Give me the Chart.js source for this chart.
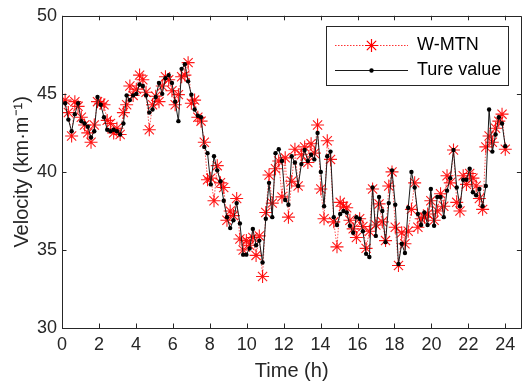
<!DOCTYPE html>
<html>
<head>
<meta charset="utf-8">
<script src="https://cdn.jsdelivr.net/npm/chart.js@4/dist/chart.umd.min.js"></script>
<style>
  html, body { margin: 0; padding: 0; background: #fff; }
  #wrap { width: 529px; height: 388px; }
</style>
</head>
<body>
<div id="wrap"><canvas id="c" width="529" height="388"></canvas></div>
<script>
// sampling grid (hours)
var tStart = 0.17;
var tStep = 0.1752;

var trueValue = [
  44.4, 43.35, 42.6, 43.7, 44.4, 43.25, 43.1, 42.9, 42.2, 42.6,
  44.8, 44.3, 43.5, 42.7, 42.6, 42.7, 42.6, 42.4, 43.1, 44.9,
  44.6, 44.9, 45.0, 45.6, 45.5, 44.9, 43.8, 44.0, 44.8, 45.7,
  45.0, 46.0, 46.2, 45.7, 44.5, 43.25, 46.6, 46.9, 45.8, 44.95,
  44.0, 43.6, 43.5, 41.6, 41.2, 39.2, 41.0, 40.1, 39.4, 38.15,
  37.1, 36.4, 36.9, 38.0, 36.7, 34.7, 34.7, 35.1, 36.35, 35.3,
  35.6, 34.2, 37.0, 39.3, 37.1, 41.2, 41.45, 40.7, 38.2, 37.9,
  41.0, 40.6, 39.1, 40.5, 41.4, 40.7, 41.1, 40.8, 42.5, 40.0,
  37.8, 41.0, 41.3, 37.1, 36.6, 37.3, 37.5, 37.4, 36.55, 36.1,
  37.1, 37.0, 36.2, 34.75, 34.55, 39.0, 35.9, 38.4, 37.5, 35.5,
  38.0, 40.1, 37.9, 34.1, 35.4, 34.8, 37.7, 40.0, 39.0, 37.3,
  36.6, 37.4, 36.6, 38.9, 36.55, 38.4, 38.4, 37.1, 38.8, 39.6,
  41.4, 39.0, 37.8, 39.5, 39.5, 40.2, 38.7, 38.5, 38.9, 37.8,
  39.1, 44.0, 41.3, 42.4, 43.5, 43.1, 41.65
];

var wmtn = [
  44.6, 43.8, 42.3, 44.5, 44.2, 43.5, 43.0, 42.5, 41.9, 43.0,
  44.5, 44.4, 44.3, 43.3, 43.1, 42.5, 42.8, 42.4, 43.8, 44.3,
  45.5, 44.9, 45.3, 46.2, 45.9, 45.1, 42.7, 44.3, 44.85, 44.5,
  45.5, 46.1, 45.9, 45.2, 44.3, 44.95, 46.1, 46.2, 47.0, 44.4,
  44.6, 43.5, 43.25, 41.9, 39.5, 39.6, 38.15, 40.4, 39.3, 39.0,
  36.9, 37.5, 37.2, 38.3, 35.7, 35.0, 35.6, 35.3, 35.8, 34.65,
  35.9, 33.3, 37.4, 39.8, 38.0, 40.2, 40.7, 38.4, 40.9, 37.1,
  39.4, 41.45, 39.1, 41.1, 41.6, 40.6, 41.8, 41.2, 43.0, 38.9,
  37.0, 42.0, 40.8, 36.8, 35.2, 38.05, 37.8, 37.7, 36.9, 36.35,
  35.8, 37.0, 36.5, 35.1, 36.2, 38.9, 36.6, 37.95, 36.8, 35.6,
  39.1, 40.0, 36.45, 34.0, 36.1, 35.4, 36.2, 37.6, 39.3, 36.45,
  37.0, 37.1, 37.3, 38.15, 36.9, 37.5, 38.6, 37.8, 39.75, 39.3,
  41.4, 38.05, 37.5, 39.75, 39.2, 39.9, 39.6, 39.1, 38.3, 37.6,
  41.6, 42.3, 41.9, 42.8, 43.25, 43.7, 41.45
];

var xTicks = [0, 2, 4, 6, 8, 10, 12, 14, 16, 18, 20, 22, 24];
var yTicks = [30, 35, 40, 45, 50];

var seriesNames = ['W-MTN', 'Ture value'];

var axisColor = '#262626';
var fontFamily = '"Liberation Sans", Arial, Helvetica, sans-serif';

function toPoints(vals) {
  return vals.map(function(v, i) { return { x: tStart + i * tStep, y: v }; });
}

// MATLAB style box with inward ticks, plus the boxed legend
var framePlugin = {
  id: 'frame',
  afterDraw: function(chart) {
    var ctx = chart.ctx, a = chart.chartArea;
    var xs = chart.scales.x, ys = chart.scales.y;
    var tl = 4.5;
    ctx.save();
    ctx.strokeStyle = axisColor;
    ctx.lineWidth = 1;
    ctx.beginPath();
    ctx.rect(Math.round(a.left) + 0.5, Math.round(a.top) + 0.5,
             Math.round(a.right - a.left), Math.round(a.bottom - a.top));
    xTicks.forEach(function(t) {
      var px = Math.round(xs.getPixelForValue(t)) + 0.5;
      ctx.moveTo(px, a.bottom); ctx.lineTo(px, a.bottom - tl);
      ctx.moveTo(px, a.top); ctx.lineTo(px, a.top + tl);
    });
    yTicks.forEach(function(t) {
      var py = Math.round(ys.getPixelForValue(t)) + 0.5;
      ctx.moveTo(a.left, py); ctx.lineTo(a.left + tl, py);
      ctx.moveTo(a.right, py); ctx.lineTo(a.right - tl, py);
    });
    ctx.stroke();

    // legend
    var bx = 326.5, by = 26.5, bw = 182, bh = 59;
    ctx.fillStyle = '#fff';
    ctx.fillRect(bx, by, bw, bh);
    ctx.strokeRect(bx, by, bw, bh);
    var l0 = 335, l1 = 408, mx = (l0 + l1) / 2;
    var r1 = 45.5, r2 = 70.5;
    // W-MTN sample
    ctx.strokeStyle = 'rgba(255,0,0,0.8)';
    ctx.setLineDash([1.5, 1.5]);
    ctx.beginPath(); ctx.moveTo(l0, r1); ctx.lineTo(l1, r1); ctx.stroke();
    ctx.setLineDash([]);
    Chart.helpers.drawPoint(ctx, { pointStyle: 'star', radius: 6.5, borderWidth: 1.2 }, mx, r1);
    ctx.strokeStyle = 'red';
    ctx.lineWidth = 1.2;
    ctx.beginPath();
    ctx.moveTo(mx - 6.5, r1); ctx.lineTo(mx + 6.5, r1);
    ctx.moveTo(mx, r1 - 6.5); ctx.lineTo(mx, r1 + 6.5);
    ctx.moveTo(mx - 4.6, r1 - 4.6); ctx.lineTo(mx + 4.6, r1 + 4.6);
    ctx.moveTo(mx - 4.6, r1 + 4.6); ctx.lineTo(mx + 4.6, r1 - 4.6);
    ctx.stroke();
    // true value sample
    ctx.strokeStyle = '#1a1a1a';
    ctx.lineWidth = 1;
    ctx.beginPath(); ctx.moveTo(l0, r2); ctx.lineTo(l1, r2); ctx.stroke();
    ctx.fillStyle = '#000';
    ctx.beginPath(); ctx.arc(mx, r2, 2.2, 0, Math.PI * 2); ctx.fill();

    ctx.fillStyle = '#000';
    ctx.font = '18px ' + fontFamily;
    ctx.textBaseline = 'middle';
    ctx.textAlign = 'left';
    ctx.fillText(seriesNames[0], 417, r1);
    ctx.fillText(seriesNames[1], 417, r2);
    ctx.restore();
  }
};

new Chart(document.getElementById('c'), {
  type: 'line',
  data: {
    datasets: [
      {
        label: seriesNames[0],
        data: toPoints(wmtn),
        order: 1,
        borderColor: 'rgba(255,0,0,0.75)',
        borderWidth: 0.9,
        borderDash: [1.5, 1.5],
        pointStyle: 'star',
        pointRadius: 6.5,
        pointBorderWidth: 1.1,
        pointBorderColor: 'rgba(255,0,0,0.9)',
        pointBackgroundColor: 'rgba(255,0,0,0.9)',
        tension: 0,
        fill: false
      },
      {
        label: seriesNames[1],
        data: toPoints(trueValue),
        order: 0,
        borderColor: '#1a1a1a',
        borderWidth: 1,
        pointStyle: 'circle',
        pointRadius: 2.2,
        pointBorderWidth: 0,
        pointBackgroundColor: '#000',
        tension: 0,
        fill: false
      }
    ]
  },
  options: {
    responsive: false,
    animation: false,
    events: [],
    layout: { padding: { top: 12, right: 0, left: 0, bottom: 0 } },
    plugins: {
      legend: { display: false },
      tooltip: { enabled: false }
    },
    scales: {
      x: {
        type: 'linear',
        min: 0,
        max: 24.87,
        afterFit: function(s) { s.height = 60; },
        afterBuildTicks: function(s) {
          s.ticks = xTicks.map(function(v) { return { value: v }; });
        },
        grid: { display: false, drawTicks: false },
        border: { display: false },
        ticks: {
          color: axisColor,
          padding: 6,
          maxRotation: 0,
          font: { size: 18, family: fontFamily }
        },
        title: {
          display: true,
          text: 'Time (h)',
          color: axisColor,
          font: { size: 20, family: fontFamily },
          padding: { top: 0, bottom: 5 }
        }
      },
      y: {
        min: 30,
        max: 50,
        afterFit: function(s) { s.width = 62; },
        afterBuildTicks: function(s) {
          s.ticks = yTicks.map(function(v) { return { value: v }; });
        },
        grid: { display: false, drawTicks: false },
        border: { display: false },
        ticks: {
          color: axisColor,
          padding: 5,
          font: { size: 18, family: fontFamily }
        },
        title: {
          display: true,
          text: 'Velocity (km·m⁻¹)',
          color: axisColor,
          font: { size: 20, family: fontFamily },
          padding: { top: 10, bottom: 0 }
        }
      }
    }
  },
  plugins: [framePlugin]
});
</script>
</body>
</html>
